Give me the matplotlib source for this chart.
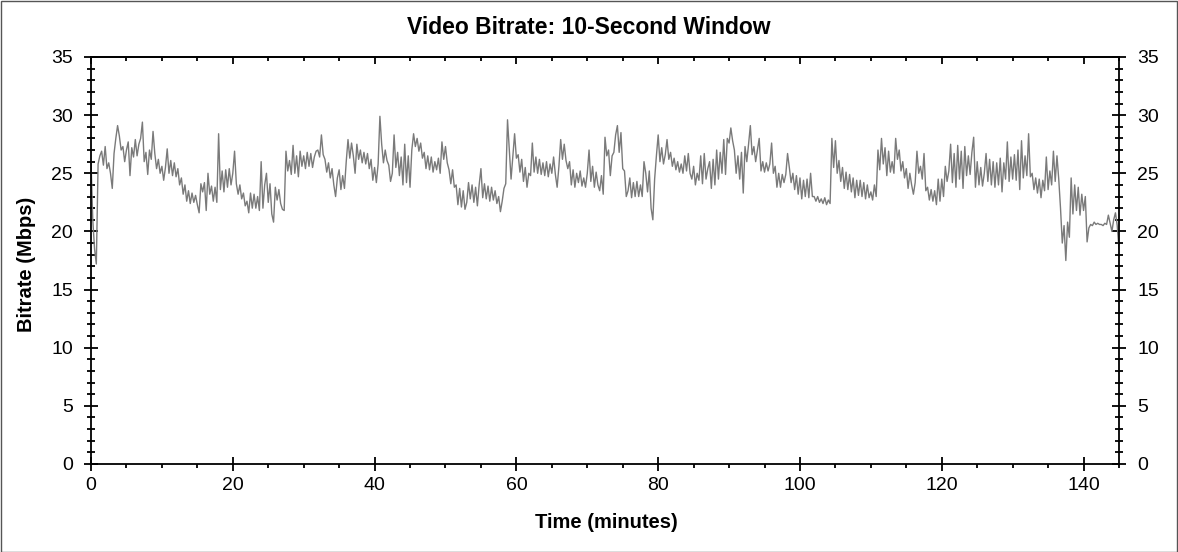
import numpy as np
import matplotlib
matplotlib.use("Agg")
import matplotlib.pyplot as plt
from matplotlib.ticker import MultipleLocator
from matplotlib.patches import Rectangle

plt.rcParams['font.family'] = ['Liberation Sans', 'DejaVu Sans']

title = "Video Bitrate: 10-Second Window"
xlabel = "Time (minutes)"
ylabel = "Bitrate (Mbps)"
sample_step_min = 0.25  # minutes between samples

# bitrate samples (Mbps), 4 per minute
seg_000_020 = [
    26.0, 21.0, 18.5, 17.2, 25.8, 26.5, 26.9, 25.7, 27.3, 25.4, 25.9, 25.0, 23.7, 26.7, 28.0, 29.1,
    28.2, 27.0, 27.3, 26.0, 27.0, 27.7, 24.8, 27.2, 26.4, 27.9, 26.5, 27.5, 28.0, 29.4, 26.0, 26.8,
    24.9, 27.0, 26.2, 28.6, 26.7, 25.4, 26.2, 25.0, 25.6, 24.4, 25.5, 27.1, 25.0, 26.1, 24.8, 25.9,
    24.7, 25.4, 24.0, 24.6, 23.2, 24.0, 22.6, 23.5, 22.4, 23.3, 22.5, 23.1, 22.3, 21.6, 24.1, 23.4,
    24.2, 21.8, 25.0, 23.2, 23.9, 22.6, 23.8, 22.5, 28.4, 23.6, 25.2, 23.4, 25.3, 23.8, 25.4, 24.0,
]
seg_020_040 = [
    25.0, 26.9, 24.1, 23.2, 24.0, 22.8, 23.3, 22.2, 22.6, 21.6, 23.3, 22.0, 23.2, 22.0, 23.0, 21.8,
    26.0, 22.0, 24.0, 25.0, 22.5, 24.1, 21.5, 20.8, 23.8, 22.7, 23.6, 22.4, 21.9, 21.8, 26.9, 25.2,
    26.1, 24.9, 27.4, 25.0, 26.5, 24.7, 26.9, 25.6, 26.5, 25.4, 26.8, 25.6, 26.7, 25.5, 26.4, 26.9,
    27.0, 26.4, 28.3, 26.6, 26.2, 25.1, 25.9, 24.6, 25.4, 24.0, 23.0, 24.6, 25.3, 23.6, 24.8, 23.7,
    26.0, 27.9, 26.3, 27.6, 26.5, 25.0, 27.5, 26.2, 27.0, 25.9, 26.8, 25.8, 26.7, 25.4, 26.2, 24.4,
]
seg_040_060 = [
    25.5, 24.2, 25.8, 29.9, 27.5, 25.9, 27.0, 26.1, 25.7, 24.3, 25.0, 28.3, 25.5, 26.8, 24.8, 26.4,
    24.0, 27.5, 24.2, 26.5, 23.8, 27.0, 28.4, 27.3, 28.0, 26.9, 27.6, 26.3, 26.8, 25.4, 26.5, 25.3,
    26.4, 25.1, 26.0, 25.3, 26.3, 25.0, 27.7, 26.2, 27.3, 25.9, 25.3, 24.1, 25.3, 23.8, 24.0, 22.3,
    23.7, 22.1, 23.5, 21.9, 22.5, 24.2, 22.8, 24.0, 22.5, 23.8, 22.2, 24.0, 25.4, 22.9, 24.1, 22.8,
    23.9, 22.6, 23.8, 22.7, 23.5, 22.4, 23.0, 21.7, 22.6, 23.7, 24.1, 29.6, 27.0, 24.5, 26.5, 28.4,
]
seg_060_080 = [
    26.3, 26.6, 25.1, 26.2, 24.3, 25.5, 23.8, 25.0, 24.8, 27.6, 25.1, 26.4, 25.0, 26.2, 24.9, 25.9,
    24.8, 26.0, 24.7, 25.8, 25.0, 26.4, 24.9, 23.8, 25.6, 27.9, 26.2, 27.5, 26.1, 25.4, 26.0, 24.0,
    25.3, 23.8, 25.0, 24.2, 25.2, 23.9, 24.6, 23.8, 25.0, 27.0, 24.3, 25.6, 23.8, 25.1, 24.0, 23.5,
    24.8, 23.2, 28.1, 26.5, 27.0, 24.8, 26.5, 26.8, 28.3, 29.1, 26.8, 28.5, 25.4, 25.2, 23.0, 23.5,
    24.6, 22.9, 24.2, 23.0, 24.3, 23.0, 24.0, 23.0, 26.0, 25.0, 23.4, 25.2, 22.0, 21.0, 24.5, 26.5,
]
seg_080_100 = [
    28.3, 26.0, 27.2, 25.8, 26.6, 27.9, 26.2, 26.8, 25.6, 26.3, 25.3, 26.0, 25.1, 25.8, 25.0, 26.5,
    25.2, 26.7, 25.0, 24.5, 25.6, 24.0, 25.0, 24.4, 26.5, 24.1, 26.7, 24.5, 25.4, 26.0, 23.7, 26.2,
    24.0, 27.0, 24.5, 26.8, 25.0, 27.9, 24.9, 28.0, 27.6, 28.9, 27.8, 27.0, 25.0, 26.5, 24.5, 26.8,
    23.3, 27.3, 26.0, 27.5, 29.1, 26.6, 27.3, 26.0, 27.0, 28.0, 25.2, 26.0, 25.1, 25.9, 25.2, 25.8,
    27.6, 25.0, 25.6, 23.8, 25.0, 23.8, 24.9, 24.2, 24.9, 26.7, 25.5, 24.2, 25.0, 23.6, 24.8, 23.2,
]
seg_100_120 = [
    24.6, 22.8, 24.4, 23.0, 24.5, 22.9, 25.0, 23.0, 23.0, 22.6, 23.0, 22.5, 22.8, 22.4, 22.9, 22.3,
    22.7, 22.4, 28.0, 25.5, 27.8, 25.0, 26.1, 24.3, 25.5, 23.7, 25.1, 23.6, 24.9, 23.4, 24.6, 22.9,
    24.4, 23.1, 24.4, 23.0, 24.2, 22.8, 24.0, 22.9, 23.4, 22.7, 24.0, 23.0, 27.0, 25.3, 28.0, 25.8,
    27.2, 24.8, 26.9, 25.1, 26.0, 25.0, 28.0, 26.2, 27.0, 25.2, 26.0, 24.6, 25.4, 23.7, 25.0, 24.0,
    23.2, 24.2, 26.9, 25.0, 25.6, 24.5, 26.7, 23.5, 23.8, 22.7, 23.6, 22.6, 23.5, 22.3, 24.5, 22.6,
]
seg_120_145 = [
    24.5, 23.0, 25.6, 24.3, 25.2, 27.5, 24.2, 26.7, 23.8, 27.4, 24.5, 26.9, 23.7, 27.3, 24.8, 26.5,
    24.9, 26.8, 28.1, 23.8, 26.0, 24.0, 25.5, 23.9, 25.0, 26.7, 24.3, 26.2, 24.0, 26.0, 23.8, 25.9,
    24.0, 26.3, 23.4, 25.9, 24.5, 27.7, 24.3, 26.4, 24.5, 26.6, 24.4, 27.0, 23.6, 27.8, 24.6, 26.5,
    24.8, 28.4, 24.7, 25.0, 23.6, 24.6, 23.3, 24.5, 22.9, 24.4, 23.5, 26.4, 23.6, 25.2, 24.0, 26.9,
    24.3, 26.5, 24.5, 22.0, 19.0, 20.5, 17.5, 20.8, 19.5, 24.6, 21.5, 24.0, 21.8, 23.8, 21.4, 23.2,
    21.8, 23.0, 19.1, 20.3, 20.6, 20.5, 20.8, 20.6, 20.7, 20.6, 20.6, 20.5, 20.7, 20.6, 21.4, 20.7,
    20.0, 21.0, 21.6, 20.5, 18.5,
]

bitrate = np.array(seg_000_020 + seg_020_040 + seg_040_060 + seg_060_080
                   + seg_080_100 + seg_100_120 + seg_120_145)
time_min = np.arange(len(bitrate)) * sample_step_min

W, H = 1178, 552
fig = plt.figure(figsize=(W / 100, H / 100), dpi=100)
fig.patch.set_facecolor('white')
fig.patches.append(Rectangle((0.5 / W, 0.5 / H), 1 - 1.5 / W, 1 - 1.5 / H,
                             transform=fig.transFigure, fill=False,
                             edgecolor='#555555', linewidth=1.0))

ax = fig.add_axes([91 / W, (H - 464) / H, (1119 - 91) / W, (464 - 57) / H])
ax.plot(time_min, bitrate, color='#7a7a7a', linewidth=1.0)

ax.set_xlim(0, 145)
ax.set_ylim(0, 35)
for s in ax.spines.values():
    s.set_linewidth(1.3)
    s.set_color('black')

ax.xaxis.set_major_locator(MultipleLocator(20))
ax.xaxis.set_minor_locator(MultipleLocator(5))
ax.yaxis.set_major_locator(MultipleLocator(5))
ax.yaxis.set_minor_locator(MultipleLocator(1))

ax.tick_params(axis='x', which='major', direction='inout', length=10, width=1.3,
               labelsize=14, pad=4, top=False)
ax.tick_params(axis='x', which='minor', direction='out', length=3, width=1.3, top=False)
ax.tick_params(axis='y', which='major', direction='inout', length=10, width=1.3,
               labelsize=14, pad=8, left=True, right=True, labelright=True)
ax.tick_params(axis='y', which='minor', direction='inout', length=6, width=1.3,
               left=True, right=True)

top = ax.secondary_xaxis('top')
top.xaxis.set_major_locator(MultipleLocator(20))
top.xaxis.set_minor_locator(MultipleLocator(5))
top.tick_params(which='major', direction='in', length=5, width=1.3, labeltop=False)
top.tick_params(which='minor', direction='in', length=3, width=1.3)
top.spines['top'].set_linewidth(1.3)

fig.text(0.5, 1 - 28 / H, title, ha='center', va='center', fontsize=16.5, fontweight='bold')
fig.text((534 + 678) / 2 / W, 1 - 523 / H, xlabel, ha='center', va='center',
         fontsize=14.5, fontweight='bold')
fig.text(27 / W, 1 - 264 / H, ylabel, ha='center', va='center', rotation=90,
         fontsize=14.5, fontweight='bold')

fig.savefig('out.png', dpi=100)
